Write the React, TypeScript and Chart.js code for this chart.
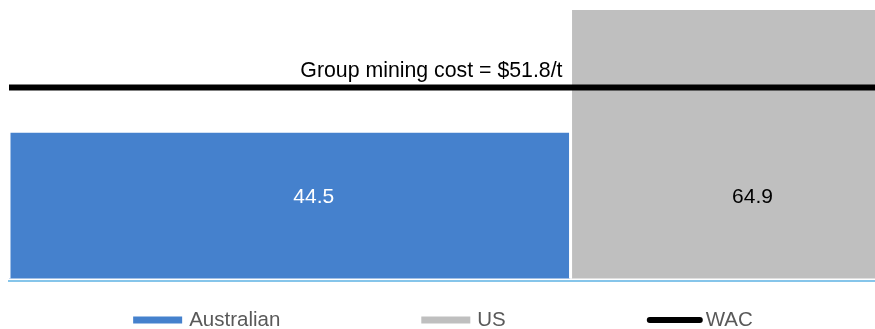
import { useEffect, useRef } from 'react';
import { Chart, registerables } from 'chart.js';

Chart.register(...registerables);

// ---- data ----
const segments = ['Australian', 'US'];
const miningCost = [44.5, 64.9]; // $/t
const volumeShare = [64, 36]; // % of group volume (bar widths)
const wacLabel = 'WAC';
const wacCost = 51.8; // group weighted average mining cost $/t

// ---- view window ----
const yAxisMin = 19.6;
const yAxisMax = 66;
const barBase = 20;
const xAxisMax = 98.7;

const barColors = ['#4581CD', '#BFBFBF'];
const labelColors = ['#FFFFFF', '#000000'];
const FONT = "'Liberation Sans', Arial, sans-serif";

export default function App() {
  const ref = useRef<HTMLCanvasElement | null>(null);

  useEffect(() => {
    if (!ref.current) return;

    let cum = 0;
    const spans: [number, number][] = [];
    const barDatasets = segments.map((name, i) => {
      const x0 = cum;
      const x1 = cum + volumeShare[i];
      cum = x1;
      spans.push([x0, x1]);
      return {
        label: name,
        data: [
          { x: x0, y: barBase },
          { x: x0, y: miningCost[i] },
          { x: x1, y: miningCost[i] },
          { x: x1, y: barBase },
        ],
        backgroundColor: barColors[i],
        borderColor: '#FFFFFF',
        borderWidth: 3,
        borderJoinStyle: 'miter',
        fill: { value: barBase },
        pointRadius: 0,
        tension: 0,
        order: 1 + i,
        legendKind: 'rect',
      };
    });

    const wacDataset = {
      label: wacLabel,
      data: [
        { x: 0, y: wacCost },
        { x: cum, y: wacCost },
      ],
      borderColor: '#000000',
      backgroundColor: '#000000',
      borderWidth: 6,
      borderCapStyle: 'butt',
      fill: false,
      pointRadius: 0,
      tension: 0,
      order: 0,
      legendKind: 'line',
    };

    const labelsPlugin = {
      id: 'barLabels',
      afterDatasetsDraw(chart: any) {
        const { ctx, scales, chartArea } = chart;
        const xs = scales.x;
        const ys = scales.y;
        ctx.save();
        ctx.font = `21px ${FONT}`;
        ctx.textAlign = 'center';
        ctx.textBaseline = 'middle';
        spans.forEach(([x0, x1], i) => {
          const cx = (xs.getPixelForValue(x0) + xs.getPixelForValue(x1)) / 2 + 24;
          ctx.fillStyle = labelColors[i];
          ctx.fillText(String(miningCost[i]), cx, chartArea.bottom - 84);
        });
        // WAC annotation
        ctx.font = `21.3px ${FONT}`;
        ctx.fillStyle = '#000000';
        ctx.textAlign = 'right';
        ctx.textBaseline = 'alphabetic';
        ctx.fillText(
          `Group mining cost = $${wacCost}/t`,
          xs.getPixelForValue(spans[0][1]) - 8,
          ys.getPixelForValue(wacCost) - 10.5
        );
        ctx.restore();
      },
    };

    const legendPlugin = {
      id: 'customLegend',
      afterDraw(chart: any) {
        const { ctx, chartArea } = chart;
        const ds = chart.data.datasets;
        ctx.save();
        ctx.font = `20.5px ${FONT}`;
        ctx.textBaseline = 'middle';
        ctx.textAlign = 'left';
        const gap = 141;
        const items = ds.map((d: any) => {
          const sw = d.legendKind === 'line' ? 56 : 49;
          const tg = d.legendKind === 'line' ? 3 : 7;
          const tw = ctx.measureText(d.label).width;
          return { d, sw, tg, tw, w: sw + tg + tw };
        });
        const total = items.reduce((s: number, it: any) => s + it.w, 0) + gap * (items.length - 1);
        let x = (chartArea.left + chartArea.right) / 2 + 1 - total / 2;
        const y = 320;
        items.forEach((it: any) => {
          if (it.d.legendKind === 'line') {
            ctx.strokeStyle = it.d.borderColor;
            ctx.lineWidth = 6;
            ctx.lineCap = 'round';
            ctx.beginPath();
            ctx.moveTo(x + 3, y);
            ctx.lineTo(x + it.sw - 3, y);
            ctx.stroke();
          } else {
            ctx.fillStyle = it.d.backgroundColor;
            ctx.fillRect(x, y - 3.5, it.sw, 7);
          }
          ctx.fillStyle = '#595959';
          ctx.fillText(it.d.label, x + it.sw + it.tg, y);
          x += it.w + gap;
        });
        ctx.restore();
      },
    };

    const chart = new Chart(ref.current, {
      type: 'line',
      data: { datasets: [...barDatasets, wacDataset] as any },
      options: {
        animation: false,
        responsive: false,
        layout: { padding: { top: 2, left: 9, right: 0, bottom: 48 } },
        plugins: {
          legend: { display: false },
          tooltip: { enabled: false },
        },
        scales: {
          x: {
            type: 'linear',
            min: 0,
            max: xAxisMax,
            display: true,
            grid: { display: false, drawTicks: false },
            ticks: { display: false },
            border: { display: true, color: '#86C5EA', width: 2, z: 1 },
          },
          y: {
            type: 'linear',
            min: yAxisMin,
            max: yAxisMax,
            display: false,
          },
        },
      },
      plugins: [labelsPlugin, legendPlugin],
    });

    return () => chart.destroy();
  }, []);

  return (
    <div style={{ position: 'fixed', left: 0, top: 0, width: 875, height: 329, background: '#fff' }}>
      <canvas ref={ref} width={875} height={329} style={{ display: 'block' }} />
    </div>
  );
}
